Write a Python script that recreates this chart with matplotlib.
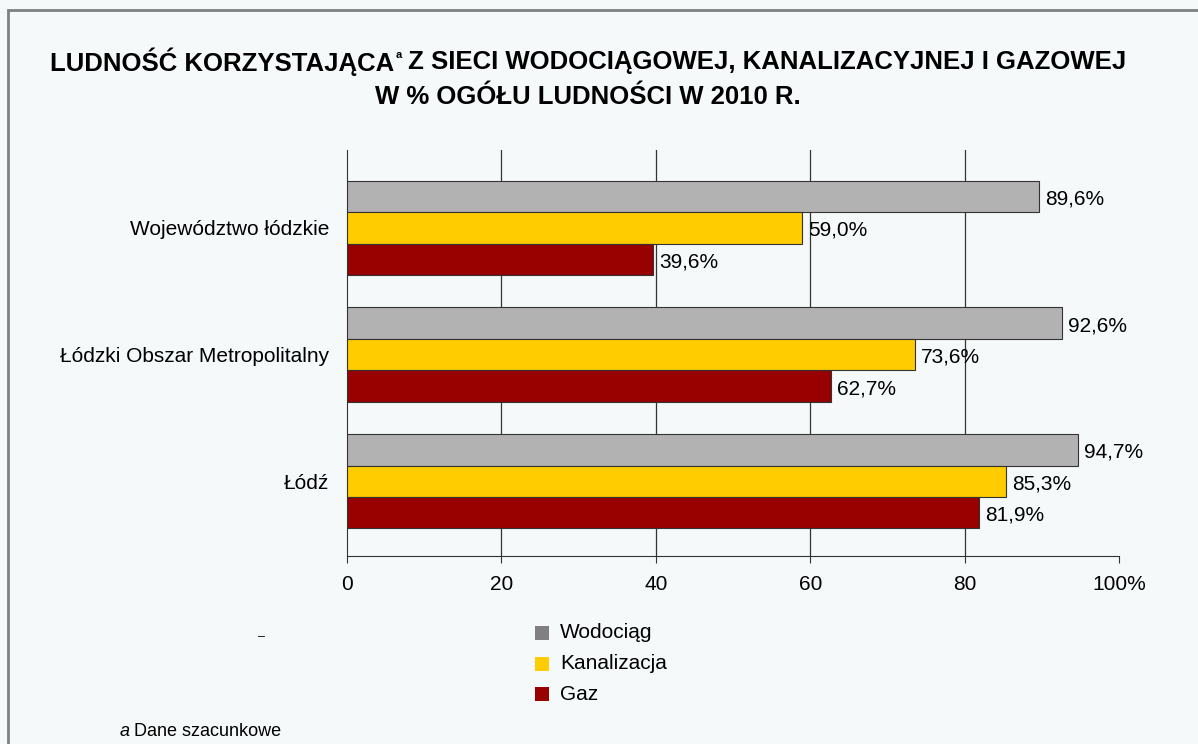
import matplotlib
matplotlib.use("Agg")
import matplotlib.pyplot as plt
import numpy as np
from matplotlib.patches import Rectangle

plt.rcParams['font.family'] = ['Liberation Sans', 'DejaVu Sans']

categories = ["Województwo łódzkie", "Łódzki Obszar Metropolitalny", "Łódź"]
series_names = ["Wodociąg", "Kanalizacja", "Gaz"]
wodociag = [89.6, 92.6, 94.7]
kanalizacja = [59.0, 73.6, 85.3]
gaz = [39.6, 62.7, 81.9]
bar_colors = ["#B2B2B2", "#FFCC00", "#990000"]
legend_colors = ["#808080", "#FFCC00", "#990000"]
xticks = [0, 20, 40, 60, 80, 100]
xtick_labels = ["0", "20", "40", "60", "80", "100%"]
title_left = "LUDNOŚĆ KORZYSTAJĄCA"
title_sup = "a"
title_right = " Z SIECI WODOCIĄGOWEJ, KANALIZACYJNEJ I GAZOWEJ"
title_line2 = "W % OGÓŁU LUDNOŚCI W 2010 R."

bg = "#F5F9FA"
W, H = 1198, 744
fig = plt.figure(figsize=(W / 100, H / 100), dpi=100, facecolor=bg)
ax = fig.add_axes([347 / W, 1 - 556 / H, (1119 - 347) / W, (556 - 150) / H])
ax.set_facecolor(bg)

FS = 15
y = np.arange(len(categories))
h = 0.248
series = [wodociag, kanalizacja, gaz]
for i, (vals, col) in enumerate(zip(series, bar_colors)):
    pos = y + (i - 1) * h
    ax.barh(pos, vals, height=h, color=col, edgecolor="#333333", linewidth=0.8, zorder=3)
    for p, v in zip(pos, vals):
        ax.text(v + 0.8, p + 0.02, f"{v:.1f}%".replace(".", ","), va="center", ha="left",
                fontsize=FS, color="#000000", zorder=4)

ax.set_xlim(0, 100)
ax.set_ylim(2.59, -0.615)
ax.set_xticks(xticks)
ax.set_xticklabels(xtick_labels, fontsize=FS)
ax.set_yticks(y)
ax.set_yticklabels(categories, fontsize=FS)
ax.tick_params(axis='y', length=0, pad=13)
ax.tick_params(axis='x', length=5, direction='out', pad=9, color="#333333")
for v in [20, 40, 60, 80]:
    ax.axvline(v, color="#333333", linewidth=0.9, zorder=1)
for s in ["top", "right"]:
    ax.spines[s].set_visible(False)
ax.spines["left"].set_color("#333333")
ax.spines["bottom"].set_color("#333333")

# Title (line 1 composed of pieces so the superscript is small)
TFS = 18.5
renderer = fig.canvas.get_renderer()
tl = fig.text(0, 1 - 62 / H, title_left, ha="left", va="center", fontsize=TFS, fontweight="bold")
ts = fig.text(0, 1 - 55 / H, title_sup, ha="left", va="center", fontsize=8, fontweight="bold")
tr = fig.text(0, 1 - 62 / H, title_right, ha="left", va="center", fontsize=TFS, fontweight="bold")
wl = tl.get_window_extent(renderer).width
ws = ts.get_window_extent(renderer).width
wr = tr.get_window_extent(renderer).width
total = wl + ws + wr
x0 = 588 - total / 2
tl.set_x(x0 / W)
ts.set_x((x0 + wl + 1) / W)
tr.set_x((x0 + wl + ws) / W)
fig.text(588 / W, 1 - 97 / H, title_line2,
         ha="center", va="center", fontsize=TFS, fontweight="bold")

# Legend
for j, (name, col) in enumerate(zip(series_names, legend_colors)):
    yy = 633 + j * 30.5
    fig.patches.append(Rectangle((535 / W, 1 - (yy + 7) / H), 14 / W, 14 / H,
                                 transform=fig.transFigure, facecolor=col, edgecolor="none"))
    fig.text(560 / W, 1 - yy / H, name, ha="left", va="center", fontsize=FS)

fig.text(262 / W, 1 - 637 / H, "–", ha="center", va="center", fontsize=9)

# Footnote
fig.text(120 / W, 1 - 731 / H, "a", ha="left", va="center", fontsize=13, style="italic")
fig.text(134 / W, 1 - 731 / H, "Dane szacunkowe", ha="left", va="center", fontsize=13)

# Border
fig.patches.append(Rectangle((8 / W, -0.01), 1.0, 1 - 10 / H + 0.01, transform=fig.transFigure,
                             facecolor="none", edgecolor="#808080", linewidth=2))

fig.savefig("out.png", dpi=100, facecolor=bg)
